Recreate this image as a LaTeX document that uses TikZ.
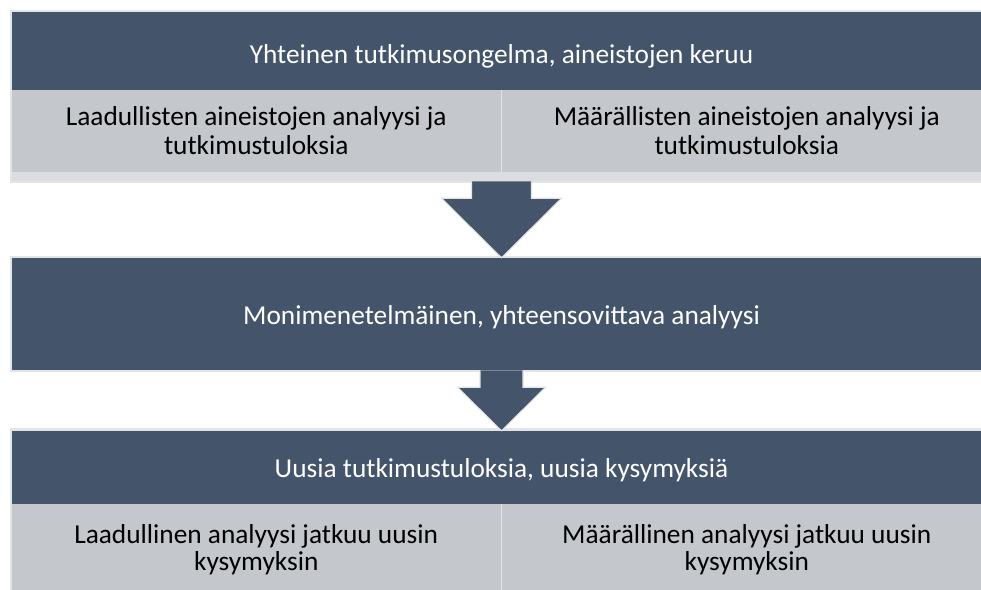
\documentclass[tikz,border=0pt]{standalone}
\usepackage{fontspec}
\setmainfont{Carlito}
\usetikzlibrary{calc}
\definecolor{slate}{HTML}{44546A}
\definecolor{cellgray}{HTML}{C4C7CC}
\definecolor{stripgray}{HTML}{DCDDE0}
\definecolor{framegray}{HTML}{E3E4E6}
\begin{document}
\begin{tikzpicture}[x=0.75pt,y=-0.75pt,
    darkbox/.style={fill=slate,text=white,inner sep=0pt,minimum width=734.25pt,font=\fontsize{20.5}{21.75}\selectfont},
    cellbox/.style={fill=cellgray,text=black,inner sep=0pt,minimum width=366.4pt,align=center,font=\fontsize{20.5}{21.75}\selectfont},
    blockarrow/.style={fill=slate,draw=framegray,line width=0.8pt,line join=miter}]
    \useasboundingbox (0,0) rectangle (981,589);
    \fill[white] (0,0) rectangle (981,589);
    \fill[framegray] (10,10) rectangle (993,183);
    \fill[framegray] (10,256) rectangle (993,372);
    \fill[framegray] (10,428) rectangle (993,600);
    \draw (501.5,51)     node[darkbox,minimum height=58.5pt] (top) {\raisebox{-4pt}[\height][\depth]{Yhteinen tutkimusongelma, aineistojen keruu}};
    \draw (256.25,131)   node[cellbox,minimum height=61.5pt] (topleft) {Laadullisten aineistojen analyysi ja\\tutkimustuloksia};
    \draw (746.75,131)   node[cellbox,minimum height=61.5pt] (topright) {Määrällisten aineistojen analyysi ja\\tutkimustuloksia};
    \draw (501.5,176.5)  node[fill=stripgray,inner sep=0pt,minimum width=734.25pt,minimum height=6.75pt] (topstrip) {};
    \draw (501.5,314)    node[darkbox,minimum height=84pt] (mid) {\raisebox{-2.5pt}[\height][\depth]{Monimenetelmäinen, yhteensovittava analyysi}};
    \draw (501.5,467.5)  node[darkbox,minimum height=54.75pt] (bot) {\raisebox{-2pt}[\height][\depth]{Uusia tutkimustuloksia, uusia kysymyksiä}};
    \draw (256.25,549.5) node[cellbox,minimum height=68.25pt,font=\fontsize{20.5}{20.25}\selectfont] (botleft) {Laadullinen analyysi jatkuu uusin\\kysymyksin};
    \draw (746.75,549.5) node[cellbox,minimum height=68.25pt,font=\fontsize{20.5}{20.25}\selectfont] (botright) {Määrällinen analyysi jatkuu uusin\\kysymyksin};
    \draw[blockarrow] ($(topstrip.south)+(-30,0)$) -- ++(0,17) -- ++(-30,0) -- (mid.north)
          -- ($(topstrip.south)+(60,17)$) -- ++(-30,0) -- ++(0,-17);
    \draw[blockarrow] ($(mid.south)+(-21.5,0)$) -- ++(0,17) -- ++(-22.5,0) -- (bot.north)
          -- ($(mid.south)+(44,17)$) -- ++(-22.5,0) -- ++(0,-17);
\end{tikzpicture}
\end{document}
